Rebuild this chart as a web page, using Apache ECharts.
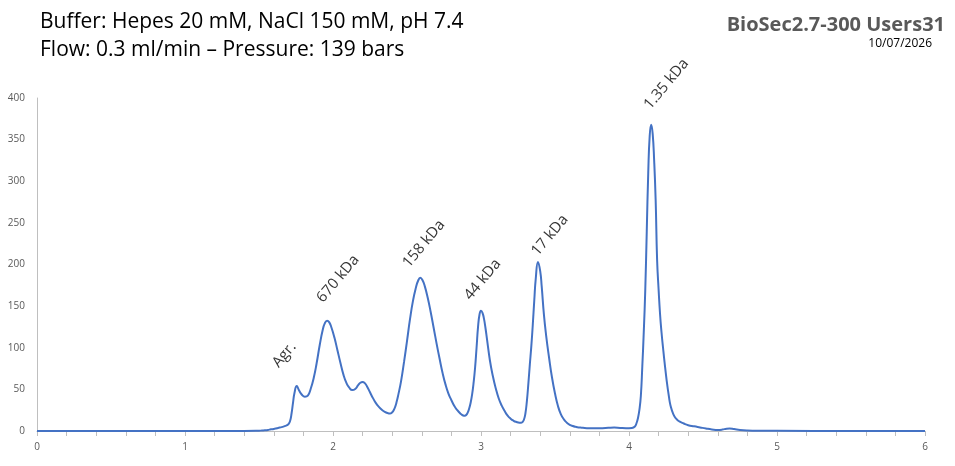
<!DOCTYPE html>
<html>
<head>
<meta charset="utf-8">
<script src="https://cdn.jsdelivr.net/npm/echarts@6/dist/echarts.min.js"></script>
<style>
  html, body { margin: 0; padding: 0; background: #fff; }
  #chart { width: 955px; height: 466px; }
</style>
</head>
<body>
<div id="chart"></div>
<script>
// retention time (ml) and UV signal
const retention = [
  0, 0.5, 1.0, 1.4, 1.50, 1.52, 1.54, 1.56, 1.58, 1.60, 1.62, 1.64, 1.66, 1.68,
  1.69, 1.70, 1.71, 1.72, 1.73, 1.74, 1.755, 1.77, 1.79, 1.81, 1.83, 1.85,
  1.87, 1.89, 1.91, 1.93, 1.945, 1.96, 1.975, 1.99, 2.01, 2.03, 2.05, 2.07, 2.09, 2.11, 2.13,
  2.15, 2.17, 2.185, 2.20, 2.215, 2.23, 2.25, 2.27, 2.29, 2.31, 2.33, 2.35, 2.37, 2.385, 2.40, 2.41, 2.42, 2.43, 2.44,
  2.46, 2.48, 2.50, 2.52, 2.54, 2.56, 2.575, 2.59, 2.605, 2.62, 2.64, 2.66, 2.68, 2.70, 2.72, 2.74, 2.76, 2.78, 2.80, 2.82, 2.84, 2.86,
  2.87, 2.88, 2.89, 2.90, 2.91, 2.92, 2.93, 2.94, 2.95, 2.96, 2.97, 2.98, 2.99, 3.00, 3.01, 3.02, 3.03, 3.04, 3.06, 3.08, 3.10, 3.12, 3.14, 3.16, 3.18, 3.20, 3.22, 3.24, 3.26,
  3.27, 3.28, 3.29, 3.30, 3.31, 3.32, 3.33, 3.34, 3.35, 3.36, 3.37, 3.385, 3.40, 3.41, 3.425, 3.44, 3.46, 3.48, 3.50, 3.52, 3.54, 3.56, 3.58, 3.60, 3.62, 3.64, 3.66, 3.68,
  3.70, 3.74, 3.78, 3.82, 3.86, 3.90, 3.94, 3.98, 4.02, 4.04, 4.05, 4.06, 4.07, 4.08, 4.09, 4.10, 4.11, 4.12, 4.13, 4.14, 4.15, 4.16, 4.17, 4.18, 4.19, 4.20,
  4.21, 4.22, 4.23, 4.24, 4.255, 4.27, 4.28, 4.30, 4.32, 4.34, 4.37, 4.40, 4.44, 4.48, 4.52, 4.56, 4.60, 4.63, 4.66, 4.68, 4.71, 4.75, 4.80, 4.9, 5.0, 5.5, 6.0
]
const signal = [
  0, 0, 0, 0, 0.3, 0.6, 0.9, 1.3, 2.0, 2.5, 3.3, 4.1, 5.0, 6.2,
  7, 8.5, 12, 21, 34, 46, 54, 49, 43.5, 41.2, 42.5, 51,
  64, 82, 103, 121, 129.5, 132.5, 130.5, 124, 112, 97, 82, 68, 58, 52, 49.2,
  50.5, 55, 58, 59, 57.5, 53.5, 46.5, 39.5, 33.5, 29, 25.5, 23, 21.5, 21, 22.5, 25, 29, 35, 42.5,
  60, 83, 108, 134, 156, 172, 180.5, 184, 181, 174, 160, 143, 124, 105, 87, 70, 56, 45, 37, 30, 25, 21,
  19.6, 18.7, 18.4, 19.2, 22, 27, 34, 44, 58, 76, 100, 125, 140, 144.5, 142, 135, 124, 111, 85, 66, 51, 39, 30.5, 24, 18.5, 14.8, 12.3, 10.8, 9.9,
  9.8, 10.7, 13.5, 21, 36, 57, 80, 102, 128, 157, 183, 203, 192, 174, 140, 115, 88, 64, 45, 30, 20, 14, 10, 7.5, 6, 5, 4.3, 4,
  3.6, 3.3, 3.2, 3.4, 3.8, 4.1, 3.7, 3.4, 3.7, 5.5, 9, 15, 25, 42, 78, 120, 170, 240, 310, 355, 368, 357, 325, 278, 205, 170,
  140, 118, 100, 83, 60, 41, 31, 20, 14.5, 11.5, 9, 7, 5.6, 4.3, 3, 1.9, 1.3, 1.7, 2.8, 3, 2.3, 1.2, 0.6, 0.3, 0.2, 0.1, 0
]

// peak annotations: text and where each label starts
const peakNames = ['Agr.', '670 kDa', '158 kDa', '44 kDa', '17 kDa', '1.35 kDa']
const peakLabelX = [1.65, 1.95, 2.53, 2.945, 3.40, 4.16]
const peakLabelY = [73, 151, 193, 154, 207, 383]

const xTicks = { min: 0, max: 6, interval: 1 }
const yTicks = { min: 0, max: 400, interval: 50 }

const font = '"Open Sans", sans-serif'
const chart = echarts.init(document.getElementById('chart'))

const option = {
  animation: false,
  title: [
    {
      text: 'Buffer: Hepes 20 mM, NaCl 150 mM, pH 7.4\nFlow: 0.3 ml/min – Pressure: 139 bars',
      left: 35, top: 3,
      textStyle: { fontFamily: font, fontSize: 21, fontWeight: 'normal', color: '#000', lineHeight: 28 }
    },
    {
      text: 'BioSec2.7-300 Users31',
      right: 5, top: 10,
      textStyle: { fontFamily: font, fontSize: 20, fontWeight: 'bold', color: '#595959' }
    },
    {
      text: '10/07/2026',
      right: 18, top: 33,
      textStyle: { fontFamily: font, fontSize: 12, fontWeight: 'normal', color: '#000' }
    }
  ],
  grid: { left: 37, right: 30, top: 98, bottom: 35 },
  xAxis: {
    type: 'value',
    min: xTicks.min, max: xTicks.max, interval: xTicks.interval,
    axisLine: { lineStyle: { color: '#bfbfbf', width: 1 } },
    axisTick: { show: true, length: 5, lineStyle: { color: '#bfbfbf' } },
    minorTick: { show: true, splitNumber: 5, length: 5, lineStyle: { color: '#bfbfbf' } },
    splitLine: { show: false },
    axisLabel: { color: '#595959', fontFamily: font, fontSize: 10, margin: 11 }
  },
  yAxis: {
    type: 'value',
    min: yTicks.min, max: yTicks.max, interval: yTicks.interval,
    axisLine: { show: true, lineStyle: { color: '#bfbfbf', width: 1 } },
    axisTick: { show: false },
    splitLine: { show: false },
    axisLabel: { color: '#595959', fontFamily: font, fontSize: 10, margin: 12 }
  },
  series: [
    {
      type: 'line',
      data: retention.map((x, i) => [x, signal[i]]),
      smooth: 0.5,
      showSymbol: false,
      lineStyle: { color: '#4472c4', width: 2 },
      z: 3
    },
    {
      type: 'scatter',
      symbolSize: 0,
      silent: true,
      data: peakNames.map((n, i) => ({ name: n, value: [peakLabelX[i], peakLabelY[i]] })),
      label: {
        show: true,
        formatter: '{b}',
        position: [0, 0],
        rotate: 50,
        align: 'left',
        verticalAlign: 'bottom',
        fontFamily: font,
        fontSize: 15,
        color: '#000'
      }
    }
  ]
}

chart.setOption(option)
window.addEventListener('resize', function () {
  chart.resize()
})
</script>
</body>
</html>
